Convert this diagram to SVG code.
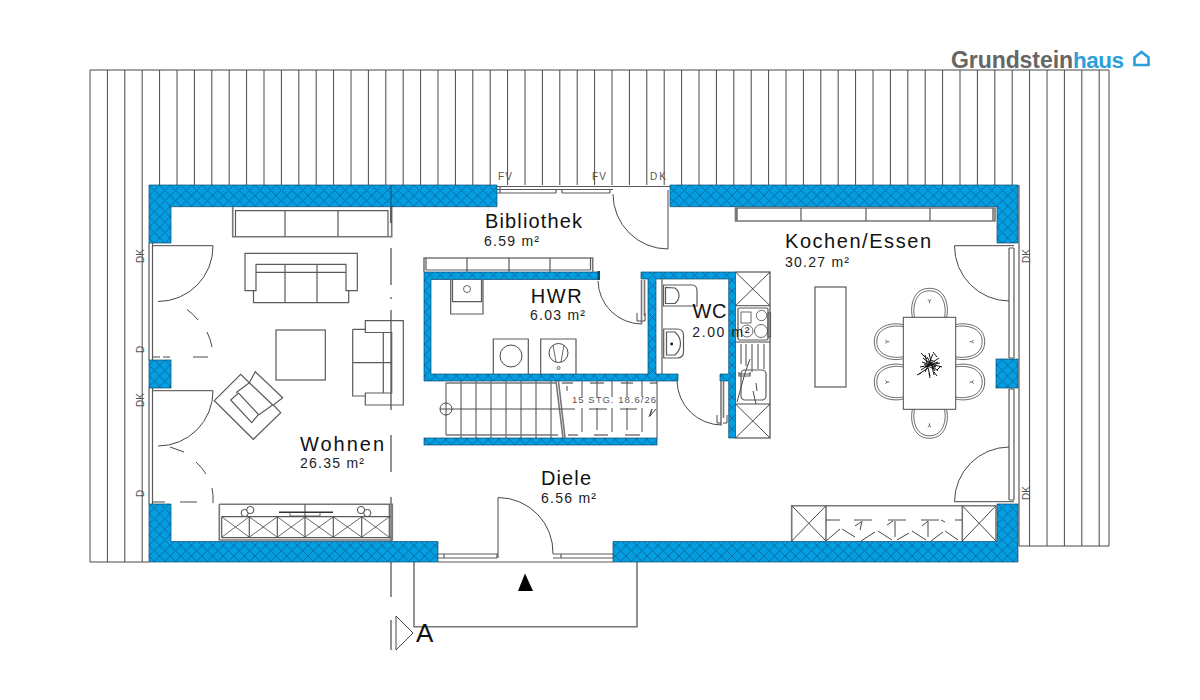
<svg xmlns="http://www.w3.org/2000/svg" width="1200" height="700" viewBox="0 0 1200 700">
<style>
.l{fill:none;stroke:#484848;stroke-width:1}
.m{fill:none;stroke:#5a5a5a;stroke-width:1.2}
.g{fill:none;stroke:#777;stroke-width:1.6}
.t{fill:none;stroke:#444;stroke-width:.8}
.w{fill:url(#hatch);stroke:#0c4a6e;stroke-width:.7}
.f{fill:#fff;stroke:#4a4a4a;stroke-width:1}
text{font-family:"Liberation Sans",Arial,sans-serif;fill:#111}
.room{font-size:20px}
.area{font-size:14px;fill:#222}
.mark{font-size:10px;fill:#555}
</style>
<defs>
<pattern id="hatch" patternUnits="userSpaceOnUse" width="10.6" height="10.6" x="149" y="185">
<rect width="10.6" height="10.6" fill="#049ee2"/>
<path d="M0 0L10.6 10.6M10.6 0L0 10.6" stroke="#0a5f8e" stroke-width=".8"/>
</pattern>
<g id="chair" class="t">
<path d="M-17 0C-19.5-9-17.5-29 0-29C17.5-29 19.5-9 17 0"/>
<path d="M-15 0C-17-9-15-26.5 0-26.5C15-26.5 17-9 15 0"/>
<path d="M-1.5-18L0-16L1.5-18M0-16V-14"/>
</g>
</defs>
<rect width="1200" height="700" fill="#fff"/>

<g id="roof">
<path class="l" d="M90 70H1109V546H1019M90 70V562H149M107.4 70V562M124.8 70V562M142.2 70V562M159.6 70V185M177 70V185M194.4 70V185M211.8 70V185M229.2 70V185M246.6 70V185M264 70V185M281.4 70V185M298.8 70V185M316.2 70V185M333.6 70V185M351 70V185M368.4 70V185M385.8 70V185M403.2 70V185M420.6 70V185M438 70V185M455.4 70V185M472.8 70V185M490.2 70V185M507.6 70V185M525 70V185M542.4 70V185M559.8 70V185M577.2 70V185M594.6 70V185M612 70V185M629.4 70V185M646.8 70V185M664.2 70V185M681.6 70V185M699 70V185M716.4 70V185M733.8 70V185M751.2 70V185M768.6 70V185M786 70V185M803.4 70V185M820.8 70V185M838.2 70V185M855.6 70V185M873 70V185M890.4 70V185M907.8 70V185M925.2 70V185M942.6 70V185M960 70V185M977.4 70V185M994.8 70V185M1012.2 70V185M1029.6 70V546M1047 70V546M1064.4 70V546M1081.8 70V546M1099.2 70V546"/>
</g>

<g id="logo">
<rect x="948" y="48" width="205" height="21" fill="#fff"/>
<text x="951" y="68" font-size="23" font-weight="700" style="fill:#666" textLength="122">Grundstein</text>
<text x="1073" y="68" font-size="22.5" font-weight="700" style="fill:#2b9fd9" textLength="51">haus</text>
<path d="M1134.5 57.5L1141.5 52L1148.5 57.5V65H1134.5Z" fill="none" stroke="#2b9fd9" stroke-width="2.6"/>
</g>

<g id="windows">
<path class="m" d="M497 186.5H670M497 189.5H613M500 193H556M562 193H610M497 193H500V186.5M556 189.5V193M562 189.5V193M610 189.5V193"/>
<path class="m" d="M149 243V360M152.5 243V360M149 388V504M152.5 388V504"/>
<path class="m" d="M1009 248V358M1014 248V358M1009 389V500M1014 389V500M1019 185V546M1009 248H1014M1009 358H1014M1009 389H1014M1009 500H1014"/>
<path class="m" d="M438 562H613M438 558H497M553 558H613M444 554H489M561 554H606M438 554H444V558M489 554H497V558M553 554H561V558M606 554H613"/>
</g>

<g id="section">
<path class="g" stroke-width="1.4" d="M391 248V285M391 297V299M391 310V410M391 435V472M391 497V597"/>
<path class="g" d="M414 562V626.7H637V562"/>
<path class="g" stroke-width="1" d="M391 620V650"/>
<path class="l" d="M396 616L413 633L396 650Z"/>
<path d="M525 573.5L533 591H518Z" fill="#000"/>
<text x="416" y="642" font-size="26">A</text>
</g>

<g id="walls">
<path class="w" d="M149 185H497V206.7H171V243H149Z"/>
<path class="w" d="M670 185H1018V243H997V206.7H670Z"/>
<path class="w" d="M149 504H171V541.5H438V562H149Z"/>
<path class="w" d="M613 541.5H997V504H1018V562H613Z"/>
<rect class="w" x="149" y="360" width="22" height="28"/>
<rect class="w" x="996" y="359" width="22" height="29"/>
<path class="w" d="M424 272H599V279.5H431V374H648V279H641V272H735.5V438H728.7V381H720V374H728.7V279H656V374H678V381H424Z"/>
<rect class="w" x="424" y="438" width="233" height="7"/>
<path d="M391 185V207" stroke="#0c4a6e" fill="none"/>
</g>

<g id="doors">
<path class="l" d="M153 245.7H213A55 55 0 0 1 158 301.5"/>
<path class="l" d="M153 390.7H213A55 55 0 0 1 158 446"/>
<path class="l" d="M187 309.5A55 55 0 0 1 198 320M207 332A55 55 0 0 1 212 347M153 357H160M163 357H170M193 357H208"/>
<path class="l" d="M170 447L184 452M196 462A55 55 0 0 1 206 474M212 488A55 55 0 0 1 213 503M153 502H165M180 502H197"/>
<path class="l" d="M1014 245.7H954.5A55 55 0 0 0 1009 301"/>
<path class="l" d="M1014 501.7H954.5A55 55 0 0 1 1009 447"/>
<path class="l" d="M668 190V249A55 55 0 0 1 613 194"/>
<path class="l" d="M498 558V497.5A55 55 0 0 1 553 554"/>
<path class="l" d="M598 281A44 44 0 0 0 642 324"/>
<path class="g" d="M641.5 280V324M644.5 280V316"/>
<path class="l" d="M637 313V321H641M645 313V321H642"/>
<path class="l" d="M677 381A45 45 0 0 0 722 425"/>
<path class="g" d="M721 381V425M723.5 381V418"/>
<path class="l" d="M717 415V423H721M727 415V423H723"/>
</g>

<g id="wohnen">
<path class="g" d="M232.7 207V236.7H391.7V207"/>
<path class="m" d="M235.5 236V210.7H388V236M285 210.7V236.7M338 210.7V236.7"/>
<path class="m" d="M245 253.3H357.3V290.7H346V264.3H256V290.7H245ZM253.5 290.7V302.7H348.7V290.7M256 272.3H346M285 264.3V302.7M317 264.3V302.7"/>
<rect class="m" x="276" y="330" width="49.3" height="50"/>
<path class="m" d="M365.3 320.7H403.3V405H365.3V393H391.7V332.5H365.3ZM352.7 329.3H365.3M352.7 329.3V396H365.3M383.3 332.5V393M352.7 362.7H391.7"/>
<path class="m" d="M214.3 400.7L240.7 374.3L249.3 382.7L255.3 371.7L282.7 397.7L273.3 405L280.7 412.7L253.3 439.3ZM230.7 400L238.5 393L258.5 414.5L251.7 422.7ZM236 392.7L249.3 382.7L272.7 405L258.5 415"/>
<path class="g" d="M219.3 504.3V540H392.3V504.3H219.3"/>
<path class="m" d="M221.7 516.7H391M221.7 537.7H391M221.7 516.7V537.7M249.3 516.7V537.7M277.3 516.7V537.7M305 504.3V537.7M333.3 516.7V537.7M361.7 516.7V537.7M389.3 504.3V537.7"/>
<path class="t" d="M222 517L249 537M249 517L222 537M249.5 517L277 537M277 517L249.5 537M277.5 517L305 537M305 517L277.5 537M305 517L333 537M333 517L305 537M333.5 517L361.5 537M361.5 517L333.5 537M362 517L389 537M389 517L362 537"/>
<path d="M279 512.3H333" stroke="#333" stroke-width="1.5" fill="none"/>
<path class="t" d="M290 512.3V516H320V512.3"/>
<circle class="f" cx="244.7" cy="513" r="3.6"/><circle class="f" cx="250.3" cy="510" r="3.6"/>
<circle class="f" cx="361" cy="510" r="3.6"/><circle class="f" cx="367.3" cy="513" r="3.6"/>
<path d="M390.8 207V223" stroke="#222" fill="none"/>
</g>

<g id="bibliothek-hwr">
<path class="g" d="M424 272V258H592.7V272"/>
<path class="m" d="M426 270H590.5M467 258V272M509 258V272M550 258V272M590.5 258V270M426 258V270"/>
<path class="m" d="M450.7 279.5V314H483V279.5M452.5 279.5V301.7H481.5V279.5"/>
<circle class="t" cx="467" cy="289" r="3.5"/>
<path class="m" d="M493.3 374V339H528.3V374M540.7 374V339H576V374"/>
<circle class="l" cx="511" cy="356" r="11"/>
<circle class="l" cx="558.5" cy="353" r="9.5"/>
<path class="t" d="M553 345L556 362M564 345L561 362"/>
<circle class="t" cx="558.5" cy="368" r="1.5"/>
<path d="M597.5 271H600V280H597.5Z" fill="#0c4a6e"/>
</g>

<g id="wc">
<path class="m" d="M662 279V374"/>
<path class="m" d="M663.5 285H692Q697 285 697 291V306H663.5ZM665.5 287.5V303.5H675Q679 300 679 295.5Q679 291 675 288Z"/>
<path class="m" d="M663.7 329H677Q683.5 329 683.5 335V352Q683.5 358 677 358H663.7ZM666.5 332V355H675Q680.5 350 680.5 343.5Q680.5 337 675 332Z"/>
<circle cx="671.7" cy="344" r="1.4" fill="#111"/>
</g>

<g id="stair">
<path class="l" d="M446 382.7V435M461 381V438M476 381V438M491 381V438M506 381V438M521 381V438M536 381V438M551 381V438"/>
<path class="g" d="M446 383H556M446 435H558"/>
<path class="g" d="M556 381L563 438M558.5 381L565 438" stroke-width="1"/>
<circle class="l" cx="446" cy="409" r="6"/>
<path class="l" d="M440 409H575"/>
<path class="g" d="M562 383H573M590 383H604M621 383H633M650 383H657M568 435H578M594 435H608M625 435H640"/>
<path class="l" d="M567 386V391M582 381V397M582 408V432M597 381V397M597 408V430M612 381V397M612 408V432M627 381V397M627 408V430M642 381V397M642 408V432M657 381V438"/>
<path class="l" d="M589 409H607M620 409H637M649 417L652 409L650 416L656 409"/>
</g>

<g id="kitchen">
<path class="g" d="M735.5 272H770V438H735.5"/>
<path class="l" d="M735.5 305.7H770M735.5 272L770 305.7M770 272L735.5 305.7M735.5 404H770M735.5 404L770 438M770 404L735.5 438M735.5 342H770"/>
<rect class="m" x="738" y="308" width="30" height="32" rx="1.5"/>
<rect class="m" x="768" y="313" width="2.5" height="24"/>
<circle class="t" cx="761.5" cy="315.5" r="5.2"/>
<circle class="t" cx="761" cy="331" r="6.5"/>
<circle class="t" cx="747" cy="331" r="6"/>
<rect class="t" x="741" y="312" width="10" height="11"/>
<path class="l" d="M741 344V364M746 344V366M752 344V372M758 344V369M764 344V369"/>
<rect class="m" x="741" y="370" width="25" height="30" rx="4"/>
<path class="m" d="M739 374H750M739 372V376H750V372"/>
<path class="l" d="M750 359L745 373L737 402M756 383L757 391M753 391L756 404"/>
<path class="g" d="M735.5 208H995V221H735.5ZM737 208V221M993 208V221"/>
<path class="m" d="M801 208V221M866 208V221M930 208V221"/>
<rect class="m" x="815" y="287" width="31" height="100"/>
</g>

<g id="essen">
<use href="#chair" transform="translate(929.5 317.3)"/>
<use href="#chair" transform="translate(929.5 409.3) rotate(180)"/>
<use href="#chair" transform="translate(903.3 341.7) rotate(-90)"/>
<use href="#chair" transform="translate(903.3 382) rotate(-90)"/>
<use href="#chair" transform="translate(955.7 341.7) rotate(90)"/>
<use href="#chair" transform="translate(955.7 382) rotate(90)"/>
<rect class="f" x="903.3" y="317.3" width="52.4" height="92"/>
<path fill="none" stroke="#111" stroke-width="1" d="M922 362L936 367M923 358L938 371M925 355L930 376M929 353L934 375M933 354L925 372M939 358L921 370M940 363L920 367M942 367L931 364M941 366L937 370M937 357L933 352M921 353L927 359M919 374L928 368M917 375L921 373M929 373L930 378M934 372L937 376M931 360L935 362M924 364L934 369M927 361L936 366M925 367L938 362M927 357L935 371"/>
</g>

<g id="cabinet">
<path class="g" d="M791.7 541V505.7H996M826 505.7V541M962.3 505.7V541M996 505.7V541"/>
<path class="l" d="M791.7 505.7L826 541M826 505.7L791.7 541M962.3 505.7L996 541M996 505.7L962.3 541"/>
<path class="l" d="M826 520H840M854 520H872M888 520H906M921 520H939M955 520H962M862 521L860 530M895 521V537M928 521V537M861 522L855 526M887 525L893 521M922 526L928 521M941 520L945 522"/>
<path class="l" d="M826 541L840 529M842 529L855 537M861 541L875 532M878 531L892 540M897 540L909 533M912 531L926 540M931 541L943 532M945 531L958 540"/>
</g>

<g id="labels">
<text class="room" x="485" y="228.3" textLength="97">Bibliothek</text>
<text class="area" x="484" y="245.7" textLength="55">6.59 m²</text>
<text class="room" x="785" y="248.3" textLength="146">Kochen/Essen</text>
<text class="area" x="785" y="266.7" textLength="64">30.27 m²</text>
<text class="room" x="530.7" y="302.7" textLength="51">HWR</text>
<text class="area" x="530" y="320" textLength="55">6.03 m²</text>
<text class="room" x="692.5" y="318.3" textLength="34">WC</text>
<text class="area" x="692.3" y="336.7" textLength="57">2.00 m²</text>
<text class="room" x="300" y="450.7" textLength="84">Wohnen</text>
<text class="area" x="300" y="467.7" textLength="64">26.35 m²</text>
<text class="room" x="541" y="485" textLength="50">Diele</text>
<text class="area" x="541" y="502.7" textLength="55">6.56 m²</text>
<text x="572" y="403.3" font-size="9.5" style="fill:#555" textLength="84">15 STG. 18.6/26</text>
<text class="mark" x="498" y="180" textLength="14">FV</text>
<text class="mark" x="592" y="180" textLength="14">FV</text>
<text class="mark" x="650" y="180" textLength="16">DK</text>
<text class="mark" transform="translate(144 263) rotate(-90)">DK</text>
<text class="mark" transform="translate(144 353) rotate(-90)">D</text>
<text class="mark" transform="translate(144 407) rotate(-90)">DK</text>
<text class="mark" transform="translate(144 497) rotate(-90)">D</text>
<text class="mark" transform="translate(1030 263) rotate(-90)">DK</text>
<text class="mark" transform="translate(1030 500) rotate(-90)">DK</text>
</g>
</svg>
